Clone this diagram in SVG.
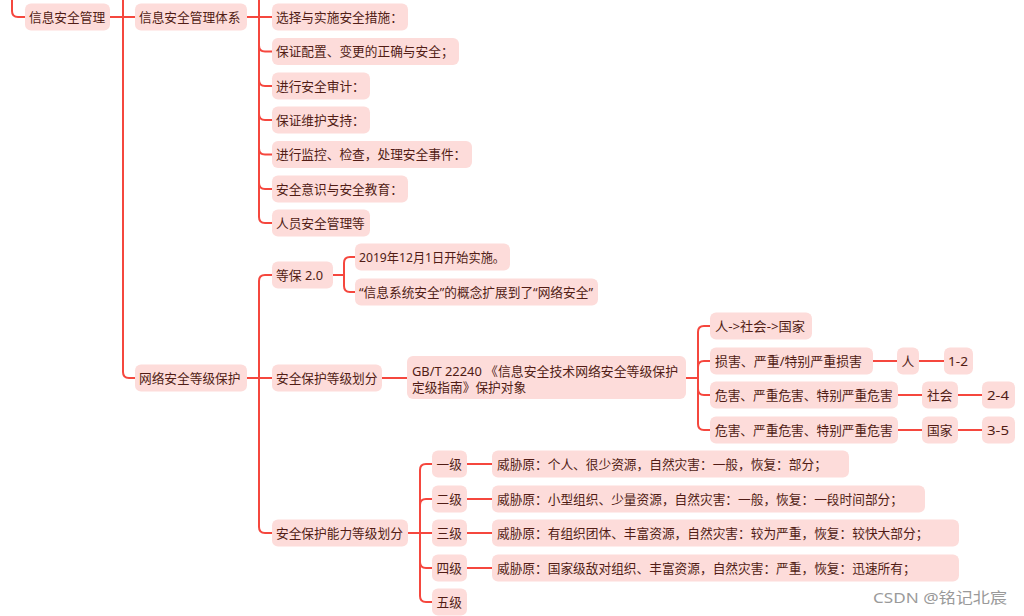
<svg xmlns="http://www.w3.org/2000/svg" width="1024" height="616" viewBox="0 0 1024 616">
<style>
.n rect{fill:#fddcda;}
.n text{font-family:"Noto Sans","Noto Sans CJK SC",sans-serif;font-size:12.7px;fill:#511c15;}
.c path{fill:none;stroke:#f5473e;stroke-width:2;}
.wm{font-family:"Noto Sans","Noto Sans CJK SC",sans-serif;font-size:15px;fill:#9a9a9a;}
</style>
<rect width="1024" height="616" fill="#ffffff"/>
<g class="c" id="connectors">
<path d="M12,-10 V11 Q12,17 18,17 H25"/>
<path d="M110,17 H135"/>
<path d="M123,-10 V372 Q123,378 129,378 H135"/>
<path d="M247,17 H272"/>
<path d="M259,-10 V217 Q259,223 265,223 H272"/>
<path d="M259,45.5 Q259,51.5 265,51.5 H272"/>
<path d="M259,80 Q259,86 265,86 H272"/>
<path d="M259,114 Q259,120 265,120 H272"/>
<path d="M259,148.5 Q259,154.5 265,154.5 H272"/>
<path d="M259,183 Q259,189 265,189 H272"/>
<path d="M247,378 H272"/>
<path d="M259,378 V281 Q259,275 265,275 H272"/>
<path d="M259,378 V527 Q259,533 265,533 H272"/>
<path d="M333,275 H344"/>
<path d="M344,275 V263 Q344,257 350,257 H355"/>
<path d="M344,275 V286 Q344,292 350,292 H355"/>
<path d="M382,378 H407"/>
<path d="M686,378 H698"/>
<path d="M698,378 V332 Q698,326 704,326 H710"/>
<path d="M698,378 V367 Q698,361 704,361 H710"/>
<path d="M698,378 V389 Q698,395 704,395 H710"/>
<path d="M698,378 V424 Q698,430 704,430 H710"/>
<path d="M873,361 H897"/>
<path d="M919,361 H944"/>
<path d="M898,395 H922"/>
<path d="M958,395 H982"/>
<path d="M898,430 H922"/>
<path d="M958,430 H982"/>
<path d="M408,533 H432"/>
<path d="M420,533 V470 Q420,464 426,464 H432"/>
<path d="M420,533 V505 Q420,499 426,499 H432"/>
<path d="M420,533 V562 Q420,568 426,568 H432"/>
<path d="M420,533 V596 Q420,602 426,602 H432"/>
<path d="M467,464 H492"/>
<path d="M467,499 H492"/>
<path d="M467,533 H492"/>
<path d="M467,568 H492"/>
</g>
<g class="n" id="n-root"><rect x="25" y="3.5" width="85" height="27" rx="6"/><text x="29" y="21.5">信息安全管理</text></g>
<g class="n" id="n-tixi"><rect x="135" y="3.5" width="112" height="27" rx="6"/><text x="139" y="21.5">信息安全管理体系</text></g>
<g class="n" id="n-t1"><rect x="272" y="3.5" width="136" height="27" rx="6"/><text x="276" y="21.5">选择与实施安全措施：</text></g>
<g class="n" id="n-t2"><rect x="272" y="38" width="187" height="27" rx="6"/><text x="276" y="56">保证配置、变更的正确与安全；</text></g>
<g class="n" id="n-t3"><rect x="272" y="72.5" width="98" height="27" rx="6"/><text x="276" y="90.5">进行安全审计：</text></g>
<g class="n" id="n-t4"><rect x="272" y="106.5" width="98" height="27" rx="6"/><text x="276" y="124.5">保证维护支持：</text></g>
<g class="n" id="n-t5"><rect x="272" y="141" width="200" height="27" rx="6"/><text x="276" y="159">进行监控、检查，处理安全事件：</text></g>
<g class="n" id="n-t6"><rect x="272" y="175.5" width="136" height="27" rx="6"/><text x="276" y="193.5">安全意识与安全教育：</text></g>
<g class="n" id="n-t7"><rect x="272" y="209.5" width="98" height="27" rx="6"/><text x="276" y="227.5">人员安全管理等</text></g>
<g class="n" id="n-wl"><rect x="135" y="364.5" width="112" height="27" rx="6"/><text x="139" y="382.5">网络安全等级保护</text></g>
<g class="n" id="n-db"><rect x="272" y="261.5" width="61" height="27" rx="6"/><text x="276" y="279.5" textLength="47" lengthAdjust="spacingAndGlyphs">等保 2.0</text></g>
<g class="n" id="n-db1"><rect x="355" y="243.5" width="155" height="27" rx="6"/><text x="359" y="261.5" textLength="146" lengthAdjust="spacingAndGlyphs">2019年12月1日开始实施。</text></g>
<g class="n" id="n-db2"><rect x="355" y="278.5" width="243" height="27" rx="6"/><text x="359" y="296.5" textLength="234" lengthAdjust="spacingAndGlyphs">“信息系统安全”的概念扩展到了“网络安全”</text></g>
<g class="n" id="n-hf"><rect x="272" y="364.5" width="110" height="27" rx="6"/><text x="276" y="382.5">安全保护等级划分</text></g>
<g class="n" id="n-gb"><rect x="407" y="356" width="279" height="43" rx="6"/><text x="412" y="375.5" textLength="266" lengthAdjust="spacingAndGlyphs">GB/T 22240 《信息安全技术网络安全等级保护</text><text x="412" y="392">定级指南》保护对象</text></g>
<g class="n" id="n-g1"><rect x="710" y="312.5" width="102" height="27" rx="6"/><text x="715" y="330.5" textLength="90" lengthAdjust="spacingAndGlyphs">人-&gt;社会-&gt;国家</text></g>
<g class="n" id="n-g2"><rect x="710" y="347.5" width="163" height="27" rx="6"/><text x="715" y="365.5" textLength="147" lengthAdjust="spacingAndGlyphs">损害、严重/特别严重损害</text></g>
<g class="n" id="n-g3"><rect x="710" y="381.5" width="188" height="27" rx="6"/><text x="715" y="399.5">危害、严重危害、特别严重危害</text></g>
<g class="n" id="n-g4"><rect x="710" y="416.5" width="188" height="27" rx="6"/><text x="715" y="434.5">危害、严重危害、特别严重危害</text></g>
<g class="n" id="n-ren"><rect x="897" y="347.5" width="22" height="27" rx="6"/><text x="901.5" y="365.5">人</text></g>
<g class="n" id="n-12"><rect x="944" y="347.5" width="29" height="27" rx="6"/><text x="948" y="365.5" textLength="20" lengthAdjust="spacingAndGlyphs">1-2</text></g>
<g class="n" id="n-sh"><rect x="922" y="381.5" width="36" height="27" rx="6"/><text x="927" y="399.5">社会</text></g>
<g class="n" id="n-24"><rect x="982" y="381.5" width="33" height="27" rx="6"/><text x="987" y="399.5" textLength="22" lengthAdjust="spacingAndGlyphs">2-4</text></g>
<g class="n" id="n-gj"><rect x="922" y="416.5" width="36" height="27" rx="6"/><text x="927" y="434.5">国家</text></g>
<g class="n" id="n-35"><rect x="982" y="416.5" width="33" height="27" rx="6"/><text x="987" y="434.5" textLength="22" lengthAdjust="spacingAndGlyphs">3-5</text></g>
<g class="n" id="n-nl"><rect x="272" y="519.5" width="136" height="27" rx="6"/><text x="276" y="537.5">安全保护能力等级划分</text></g>
<g class="n" id="n-l1"><rect x="432" y="450.5" width="35" height="27" rx="6"/><text x="436.5" y="468.5">一级</text></g>
<g class="n" id="n-l2"><rect x="432" y="485.5" width="35" height="27" rx="6"/><text x="436.5" y="503.5">二级</text></g>
<g class="n" id="n-l3"><rect x="432" y="519.5" width="35" height="27" rx="6"/><text x="436.5" y="537.5">三级</text></g>
<g class="n" id="n-l4"><rect x="432" y="554.5" width="35" height="27" rx="6"/><text x="436.5" y="572.5">四级</text></g>
<g class="n" id="n-l5"><rect x="432" y="588.5" width="35" height="27" rx="6"/><text x="436.5" y="606.5">五级</text></g>
<g class="n" id="n-d1"><rect x="492" y="450.5" width="357" height="27" rx="6"/><text x="497" y="468.5">威胁原：个人、很少资源，自然灾害：一般，恢复：部分；</text></g>
<g class="n" id="n-d2"><rect x="492" y="485.5" width="433" height="27" rx="6"/><text x="497" y="503.5">威胁原：小型组织、少量资源，自然灾害：一般，恢复：一段时间部分；</text></g>
<g class="n" id="n-d3"><rect x="492" y="519.5" width="467" height="27" rx="6"/><text x="497" y="537.5">威胁原：有组织团体、丰富资源，自然灾害：较为严重，恢复：较快大部分；</text></g>
<g class="n" id="n-d4"><rect x="492" y="554.5" width="467" height="27" rx="6"/><text x="497" y="572.5">威胁原：国家级敌对组织、丰富资源，自然灾害：严重，恢复：迅速所有；</text></g>
<text class="wm" x="873" y="603" textLength="134" lengthAdjust="spacingAndGlyphs">CSDN @铭记北宸</text>
</svg>
